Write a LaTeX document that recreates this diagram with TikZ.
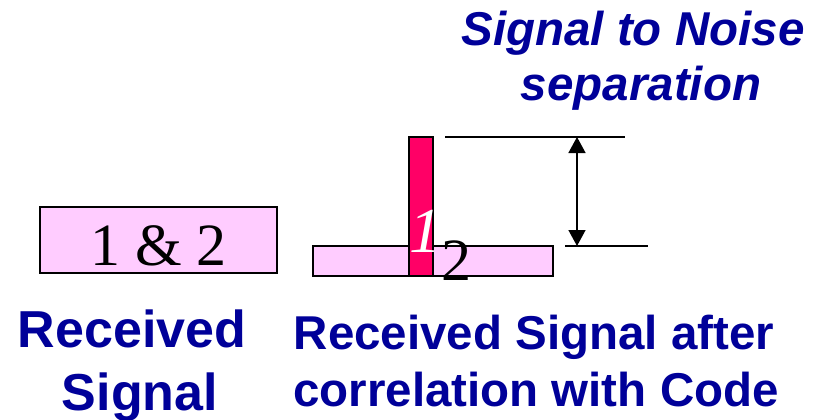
\documentclass[tikz,border=0pt]{standalone}
\usepackage{fontspec}
\setmainfont{Liberation Serif}
\setsansfont{Liberation Sans}
\usepackage{tikz}
\usetikzlibrary{arrows.meta,positioning}
\definecolor{SigPink}{RGB}{255,204,255}
\definecolor{SigRed}{RGB}{255,0,102}
\definecolor{SigBlue}{RGB}{0,0,153}
\begin{document}
\begin{tikzpicture}[x=1pt,y=-1pt,bar/.style n args={3}{rectangle,fill=#1,draw=black,line width=1.4pt,minimum width=#2pt,minimum height=#3pt,inner sep=0pt},lbl/.style={text=SigBlue,anchor=base,inner sep=0pt,font=\sffamily\bfseries\fontsize{#1}{#1}\selectfont},num/.style={anchor=base,inner sep=0pt,font=\fontsize{#1}{#1}\selectfont},mark line/.style={line width=2pt}]
\useasboundingbox (0,0) rectangle (820,420);
\node[bar={SigPink}{237}{66},text height=58pt,text depth=8pt,font=\fontsize{60}{60}\selectfont](rx) at(158.5,240) {1 \& 2};
\node[bar={SigPink}{240}{30}](floor) at(433,261) {};
\node[bar={SigRed}{24}{139}](peak) at(421,206.5) {};
\node[num=64,text=white](one) at(425,252) {\itshape 1};
\node[num=60](two) at(456,280) {2};
\coordinate (top-l) at (445,137);
\coordinate (top-r) at (625,137);
\coordinate (bot-l) at (565,246);
\coordinate (bot-r) at (648,246);
\coordinate (arr-t) at (577,137);
\coordinate (arr-b) at (577,246);
\draw[mark line] (top-l) -- (top-r);
\draw[mark line] (bot-l) -- (bot-r);
\draw[line width=1.5pt,{Triangle[width=17pt,length=16pt]}-{Triangle[width=17pt,length=16pt]}] (arr-t) -- (arr-b);
\node[lbl=47.5](snr1) at(633,46) {\itshape Signal to Noise};
\node[lbl=47.5](snr2) at(641,100) {\itshape separation};
\node[lbl=52](rx1) at(132,347) {Received};
\node[lbl=52](rx2) at(140,410) {Signal};
\node[lbl=47.5](cor1) at(534,349) {Received Signal after};
\node[lbl=47.5](cor2) at(536,406) {correlation with Code};
\end{tikzpicture}
\end{document}
